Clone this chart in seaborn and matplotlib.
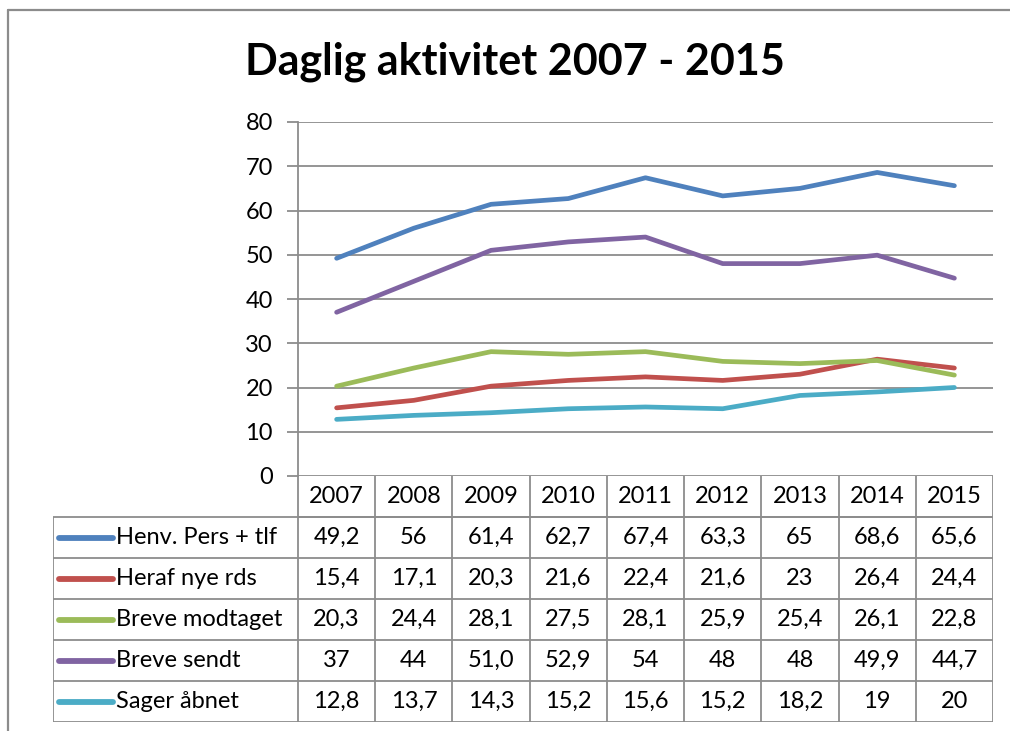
import matplotlib
matplotlib.use("Agg")
import matplotlib.pyplot as plt
import seaborn as sns
import pandas as pd
from matplotlib.lines import Line2D

years = ["2007", "2008", "2009", "2010", "2011", "2012", "2013", "2014", "2015"]
series_names = ["Henv. Pers + tlf", "Heraf nye rds", "Breve modtaget", "Breve sendt", "Sager åbnet"]
henv = [49.2, 56, 61.4, 62.7, 67.4, 63.3, 65, 68.6, 65.6]
heraf = [15.4, 17.1, 20.3, 21.6, 22.4, 21.6, 23, 26.4, 24.4]
breve_mod = [20.3, 24.4, 28.1, 27.5, 28.1, 25.9, 25.4, 26.1, 22.8]
breve_sendt = [37, 44, 51.0, 52.9, 54, 48, 48, 49.9, 44.7]
sager = [12.8, 13.7, 14.3, 15.2, 15.6, 15.2, 18.2, 19, 20]
table_text = [
    ["49,2", "56", "61,4", "62,7", "67,4", "63,3", "65", "68,6", "65,6"],
    ["15,4", "17,1", "20,3", "21,6", "22,4", "21,6", "23", "26,4", "24,4"],
    ["20,3", "24,4", "28,1", "27,5", "28,1", "25,9", "25,4", "26,1", "22,8"],
    ["37", "44", "51,0", "52,9", "54", "48", "48", "49,9", "44,7"],
    ["12,8", "13,7", "14,3", "15,2", "15,6", "15,2", "18,2", "19", "20"],
]
colors = ["#4F81BD", "#C0504D", "#9BBB59", "#8064A2", "#4BACC6"]
yticks = [0, 10, 20, 30, 40, 50, 60, 70, 80]

sns.set_theme(style="white")
plt.rcParams["font.family"] = ["Lato", "DejaVu Sans"]
plt.rcParams["text.color"] = "black"
plt.rcParams["ytick.labelcolor"] = "black"

W, H = 1010, 731
fig = plt.figure(figsize=(W / 100, H / 100), dpi=100)

def fx(px):
    return px / W

def fy(py):
    return 1 - py / H

grid_col = "#8C8C8C"
FS = 17

# outer chart border (top and left edges visible)
fig.add_artist(Line2D([fx(8), 1.0], [fy(9.5), fy(9.5)], transform=fig.transFigure,
                      color=grid_col, linewidth=1.6))
fig.add_artist(Line2D([fx(8), fx(8)], [fy(9.5), 0.0], transform=fig.transFigure,
                      color=grid_col, linewidth=1.6))

# Title
fig.text(fx(515), fy(62), "Daglig aktivitet 2007 - 2015", ha="center", va="center",
         fontsize=31, fontweight="bold", color="black")

# main axes
x0, x1 = 298, 993
ytop, ybot = 122, 476
ax = fig.add_axes([fx(x0), fy(ybot), fx(x1 - x0), (ybot - ytop) / H])

rows = []
for name, vals in zip(series_names, [henv, heraf, breve_mod, breve_sendt, sager]):
    for i, (yr, v) in enumerate(zip(years, vals)):
        rows.append({"idx": i, "year": yr, "value": v, "series": name})
df = pd.DataFrame(rows)

sns.lineplot(data=df, x="idx", y="value", hue="series", hue_order=series_names,
             palette=colors, linewidth=3.4, ax=ax, legend=False,
             solid_capstyle="round")

ax.set_xlim(-0.5, 8.5)
ax.set_ylim(0, 80)
ax.set_yticks(yticks)
ax.set_yticklabels([str(t) for t in yticks], fontsize=FS, color="black")
ax.set_xticks([])
ax.set_xlabel("")
ax.set_ylabel("")
for y in yticks:
    ax.axhline(y, color=grid_col, linewidth=1.3, zorder=0)
for s in ["top", "right", "bottom"]:
    ax.spines[s].set_visible(False)
ax.spines["left"].set_color(grid_col)
ax.spines["left"].set_linewidth(1.3)
ax.tick_params(axis="y", length=8, width=1.3, color=grid_col, pad=10, left=True)
ax.patch.set_alpha(0)

# data table axes
tleft = 53
tbot = 722
col_w = (x1 - x0) / 9
leg_units = (x0 - tleft) / col_w
tax = fig.add_axes([fx(tleft), fy(tbot), fx(x1 - tleft), (tbot - ybot) / H])
tax.set_xlim(-0.5 - leg_units, 8.5)
tax.set_ylim(6, 0)
tax.axis("off")

lkw = dict(color=grid_col, linewidth=1.3, solid_capstyle="butt")
tax.plot([-0.5, 8.5], [1, 1], **lkw)
for i in range(10):
    tax.plot([i - 0.5, i - 0.5], [0, 6], **lkw)
for i, yr in enumerate(years):
    tax.text(i, 0.5, yr, ha="center", va="center", fontsize=FS, color="black")
L = -0.5 - leg_units
for r in range(1, 7):
    tax.plot([L, 8.5], [r, r], **lkw)
tax.plot([L, L], [1, 6], **lkw)
for r, (name, col) in enumerate(zip(series_names, colors)):
    yc = r + 1.5
    tax.plot([L + 0.08, L + 0.78], [yc, yc], color=col, linewidth=4.2,
             solid_capstyle="round")
    tax.text(L + 0.82, yc, name, ha="left", va="center", fontsize=FS, color="black")
    for i, t in enumerate(table_text[r]):
        tax.text(i, yc, t, ha="center", va="center", fontsize=FS, color="black")

fig.savefig("out.png", dpi=100)
